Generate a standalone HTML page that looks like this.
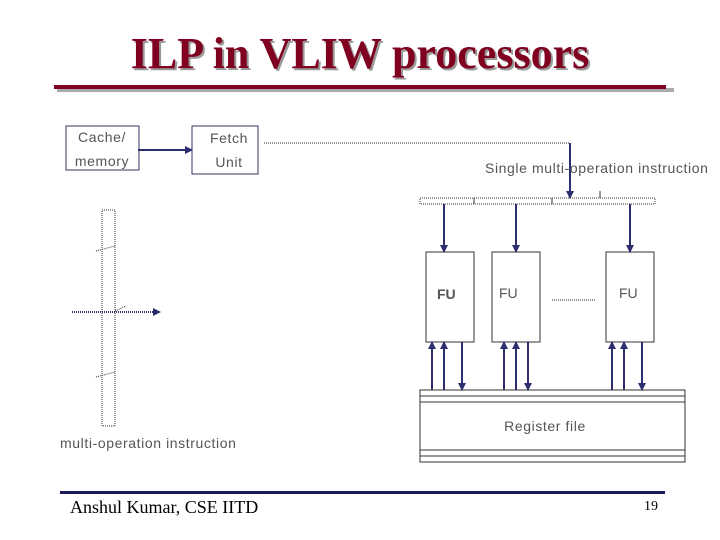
<!DOCTYPE html><html><head><style>
body{margin:0;background:#fff}
</style></head><body>
<svg width="720" height="540" xmlns="http://www.w3.org/2000/svg" style="display:block">
<defs><marker id="a" markerWidth="8" markerHeight="8" refX="7" refY="4" orient="auto" markerUnits="userSpaceOnUse"><path d="M0,0L8,4L0,8z" fill="#2e2e6e"/></marker></defs>
<text x="362" y="70" text-anchor="middle" font-family="Liberation Serif,serif" font-weight="bold" font-size="44" fill="#999">ILP in VLIW processors</text>
<text x="360" y="68" text-anchor="middle" font-family="Liberation Serif,serif" font-weight="bold" font-size="44" fill="#800020">ILP in VLIW processors</text>
<rect x="57" y="88" width="617" height="4" fill="#aaa"/>
<rect x="54" y="85" width="612" height="4" fill="#800020"/>
<g font-family="Liberation Sans,sans-serif" font-size="14" letter-spacing="0.6" fill="#555">
<rect x="66" y="126" width="73" height="44" fill="none" stroke="#333366"/>
<text x="102" y="142" text-anchor="middle">Cache/</text><text x="102" y="166" text-anchor="middle">memory</text>
<rect x="192" y="126" width="66" height="48" fill="none" stroke="#333366"/>
<text x="229" y="143" text-anchor="middle">Fetch</text><text x="229" y="167" text-anchor="middle">Unit</text>
<line x1="138" y1="150" x2="192" y2="150" stroke="#2e2e6e" stroke-width="2" marker-end="url(#a)"/>
<line x1="264" y1="143" x2="570" y2="143" stroke="#333" stroke-dasharray="1,1"/>
<line x1="570" y1="143" x2="570" y2="198" stroke="#2e2e6e" stroke-width="2" marker-end="url(#a)"/>
<text x="485" y="173">Single multi-operation instruction</text>
<rect x="102" y="210" width="13" height="216" fill="none" stroke="#333" stroke-dasharray="1,1"/>
<path d="M96 251L115 246M96 377L115 372M115 311L126 306" stroke="#333" stroke-dasharray="1,1" fill="none"/>
<line x1="72" y1="312" x2="160" y2="312" stroke="#2e2e6e" stroke-width="2" stroke-dasharray="1,1" marker-end="url(#a)"/>
<text x="60" y="448">multi-operation instruction</text>
<rect x="420" y="198" width="235" height="6" fill="none" stroke="#333" stroke-dasharray="1,1"/>
<path d="M474 198v6M552 198v6M600 191v7" stroke="#333"/>
<g fill="none" stroke="#333">
<rect x="426" y="252" width="48" height="90"/><rect x="492" y="252" width="48" height="90"/><rect x="606" y="252" width="48" height="90"/>
<rect x="420" y="390" width="265" height="72"/>
<path d="M420 396h265M420 402h265M420 450h265M420 456h265"/>
</g>
<line x1="552" y1="300" x2="595" y2="300" stroke="#333" stroke-dasharray="1,1"/>
<text x="437" y="299" font-weight="bold" letter-spacing="0">FU</text><text x="499" y="298" letter-spacing="0">FU</text><text x="619" y="298" letter-spacing="0">FU</text>
<text x="545" y="431" text-anchor="middle">Register file</text>
<g stroke="#2e2e6e" stroke-width="2" marker-end="url(#a)">
<line x1="444" y1="204" x2="444" y2="252"/><line x1="516" y1="204" x2="516" y2="252"/><line x1="630" y1="204" x2="630" y2="252"/>
<line x1="432" y1="390" x2="432" y2="342"/><line x1="444" y1="390" x2="444" y2="342"/><line x1="462" y1="342" x2="462" y2="390"/>
<line x1="504" y1="390" x2="504" y2="342"/><line x1="516" y1="390" x2="516" y2="342"/><line x1="528" y1="342" x2="528" y2="390"/>
<line x1="612" y1="390" x2="612" y2="342"/><line x1="624" y1="390" x2="624" y2="342"/><line x1="642" y1="342" x2="642" y2="390"/>
</g>
</g>
<rect x="60" y="491" width="605" height="3" fill="#1a1a5a"/>
<text x="70" y="513" font-family="Liberation Serif,serif" font-size="18" fill="#000">Anshul Kumar, CSE IITD</text>
<text x="644" y="510" font-family="Liberation Serif,serif" font-size="14" fill="#000">19</text>
</svg>
</body></html>
